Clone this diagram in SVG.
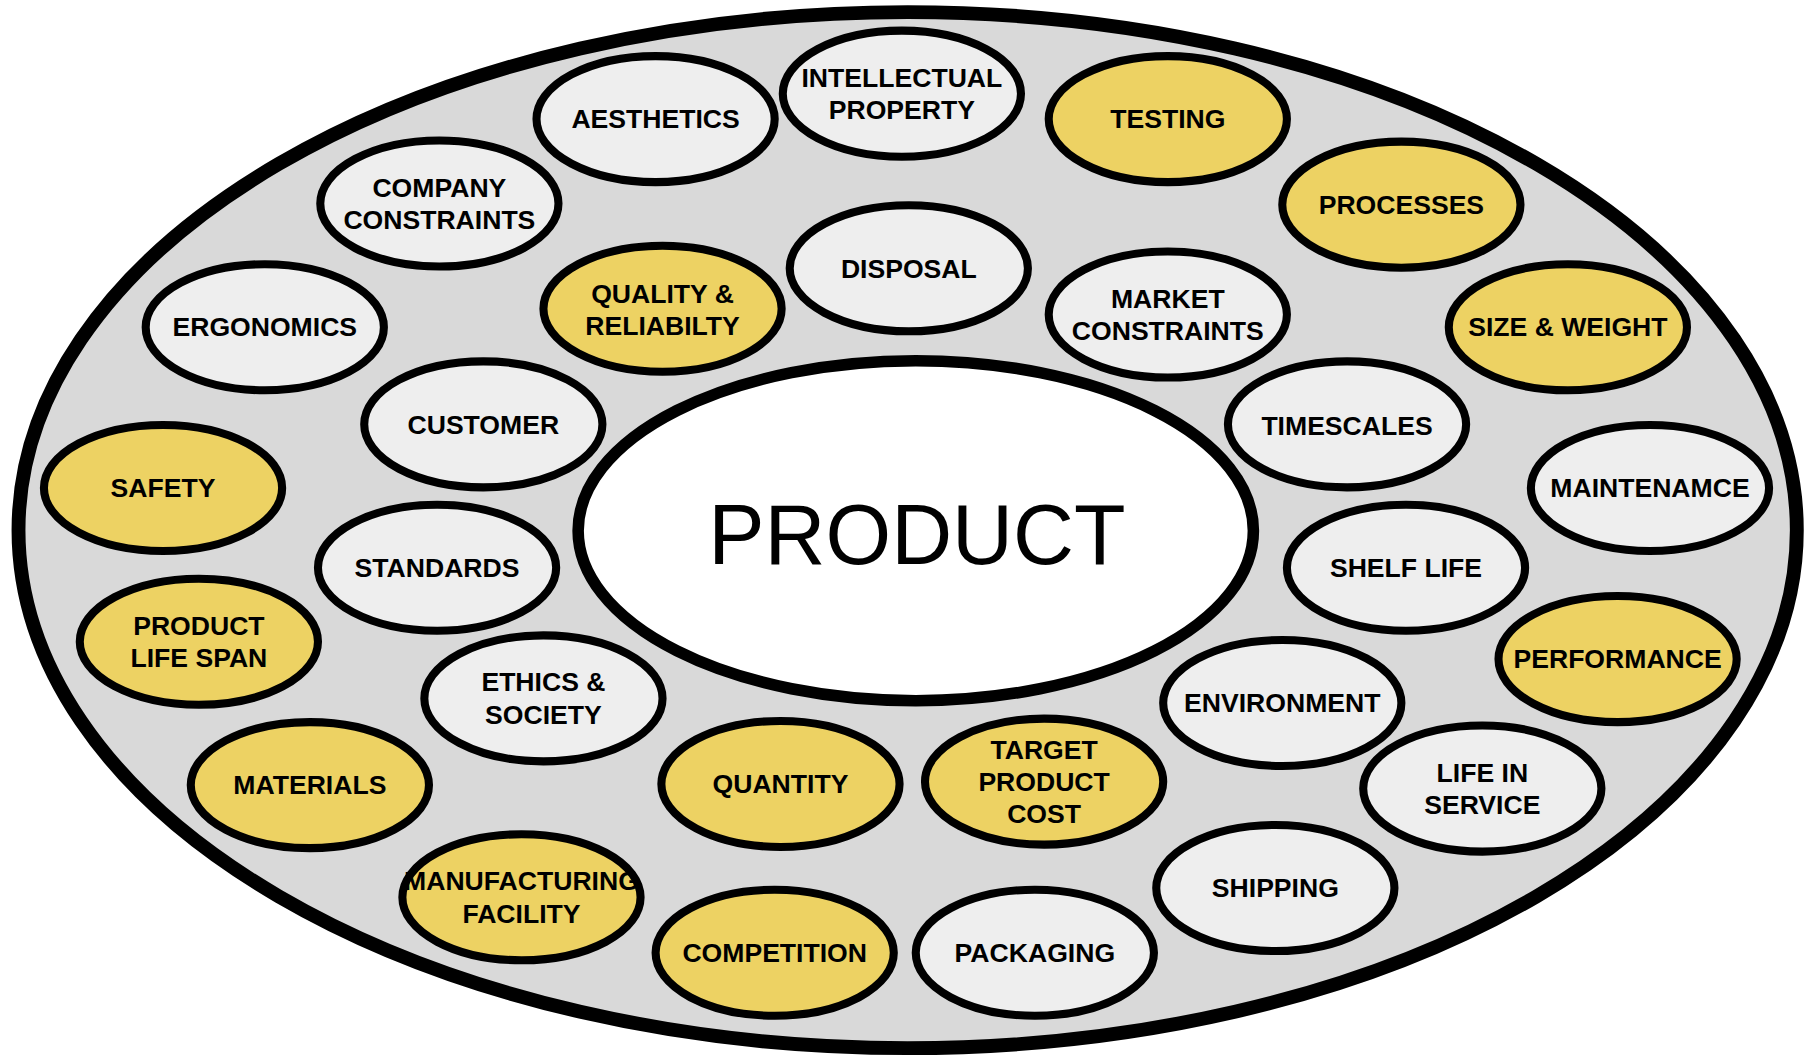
<svg xmlns="http://www.w3.org/2000/svg" width="1813" height="1056" viewBox="0 0 1813 1056">
<style>
.n{stroke:#000;stroke-width:7}
.g{fill:#eeeeee}
.y{fill:#edd263}
.t{font-family:"Liberation Sans",Arial,sans-serif;font-weight:bold;font-size:23px;fill:#000;text-anchor:middle}
</style>
<rect width="1813" height="1056" fill="#fff"/>
<g transform="scale(1.15625)">
<g id="ring"><ellipse cx="785" cy="458.5" rx="769" ry="448" fill="#d9d9d9" stroke="#000" stroke-width="12"/></g>
<g id="product"><ellipse cx="792" cy="459" rx="292" ry="147" fill="#fff" stroke="#000" stroke-width="10"/>
<text x="793" y="488" font-family="Liberation Sans,Arial,sans-serif" font-size="73" text-anchor="middle">PRODUCT</text></g>

<g id="aesthetics"><ellipse class="n g" cx="567" cy="103" rx="103" ry="54.5"/><text class="t" x="567" y="111">AESTHETICS</text></g>
<g id="intellectual-property"><ellipse class="n g" cx="780" cy="81" rx="103" ry="54.5"/><text class="t" x="780" y="75">INTELLECTUAL</text><text class="t" x="780" y="103">PROPERTY</text></g>
<g id="testing"><ellipse class="n y" cx="1010" cy="103" rx="103" ry="54.5"/><text class="t" x="1010" y="111">TESTING</text></g>
<g id="company-constraints"><ellipse class="n g" cx="380" cy="176" rx="103" ry="54.5"/><text class="t" x="380" y="170">COMPANY</text><text class="t" x="380" y="198">CONSTRAINTS</text></g>
<g id="processes"><ellipse class="n y" cx="1212" cy="177" rx="103" ry="54.5"/><text class="t" x="1212" y="185">PROCESSES</text></g>
<g id="disposal"><ellipse class="n g" cx="786" cy="232" rx="103" ry="54.5"/><text class="t" x="786" y="240">DISPOSAL</text></g>
<g id="quality-reliability"><ellipse class="n y" cx="573" cy="267" rx="103" ry="54.5"/><text class="t" x="573" y="262">QUALITY &amp;</text><text class="t" x="573" y="290">RELIABILTY</text></g>
<g id="market-constraints"><ellipse class="n g" cx="1010" cy="272" rx="103" ry="54.5"/><text class="t" x="1010" y="266">MARKET</text><text class="t" x="1010" y="294">CONSTRAINTS</text></g>
<g id="ergonomics"><ellipse class="n g" cx="229" cy="283" rx="103" ry="54.5"/><text class="t" x="229" y="291">ERGONOMICS</text></g>
<g id="size-weight"><ellipse class="n y" cx="1356" cy="283" rx="103" ry="54.5"/><text class="t" x="1356" y="291">SIZE &amp; WEIGHT</text></g>
<g id="customer"><ellipse class="n g" cx="418" cy="367" rx="103" ry="54.5"/><text class="t" x="418" y="375">CUSTOMER</text></g>
<g id="timescales"><ellipse class="n g" cx="1165" cy="367" rx="103" ry="54.5"/><text class="t" x="1165" y="376">TIMESCALES</text></g>
<g id="safety"><ellipse class="n y" cx="141" cy="422" rx="103" ry="54.5"/><text class="t" x="141" y="430">SAFETY</text></g>
<g id="maintenance"><ellipse class="n g" cx="1427" cy="422" rx="103" ry="54.5"/><text class="t" x="1427" y="430">MAINTENAMCE</text></g>
<g id="standards"><ellipse class="n g" cx="378" cy="491" rx="103" ry="54.5"/><text class="t" x="378" y="499">STANDARDS</text></g>
<g id="shelf-life"><ellipse class="n g" cx="1216" cy="491" rx="103" ry="54.5"/><text class="t" x="1216" y="499">SHELF LIFE</text></g>
<g id="product-life-span"><ellipse class="n y" cx="172" cy="555" rx="103" ry="54.5"/><text class="t" x="172" y="549">PRODUCT</text><text class="t" x="172" y="577">LIFE SPAN</text></g>
<g id="performance"><ellipse class="n y" cx="1399" cy="570" rx="103" ry="54.5"/><text class="t" x="1399" y="578">PERFORMANCE</text></g>
<g id="ethics-society"><ellipse class="n g" cx="470" cy="604" rx="103" ry="54.5"/><text class="t" x="470" y="598">ETHICS &amp;</text><text class="t" x="470" y="626">SOCIETY</text></g>
<g id="environment"><ellipse class="n g" cx="1109" cy="608" rx="103" ry="54.5"/><text class="t" x="1109" y="616">ENVIRONMENT</text></g>
<g id="target-product-cost"><ellipse class="n y" cx="903" cy="676" rx="103" ry="54.5"/><text class="t" x="903" y="656">TARGET</text><text class="t" x="903" y="684">PRODUCT</text><text class="t" x="903" y="712">COST</text></g>
<g id="quantity"><ellipse class="n y" cx="675" cy="678" rx="103" ry="54.5"/><text class="t" x="675" y="686">QUANTITY</text></g>
<g id="materials"><ellipse class="n y" cx="268" cy="679" rx="103" ry="54.5"/><text class="t" x="268" y="687">MATERIALS</text></g>
<g id="life-in-service"><ellipse class="n g" cx="1282" cy="682" rx="103" ry="54.5"/><text class="t" x="1282" y="676">LIFE IN</text><text class="t" x="1282" y="704">SERVICE</text></g>
<g id="manufacturing-facility"><ellipse class="n y" cx="451" cy="776" rx="103" ry="54.5"/><text class="t" x="451" y="770">MANUFACTURING</text><text class="t" x="451" y="798">FACILITY</text></g>
<g id="shipping"><ellipse class="n g" cx="1103" cy="768" rx="103" ry="54.5"/><text class="t" x="1103" y="776">SHIPPING</text></g>
<g id="competition"><ellipse class="n y" cx="670" cy="824" rx="103" ry="54.5"/><text class="t" x="670" y="832">COMPETITION</text></g>
<g id="packaging"><ellipse class="n g" cx="895" cy="824" rx="103" ry="54.5"/><text class="t" x="895" y="832">PACKAGING</text></g>
</g>
</svg>
